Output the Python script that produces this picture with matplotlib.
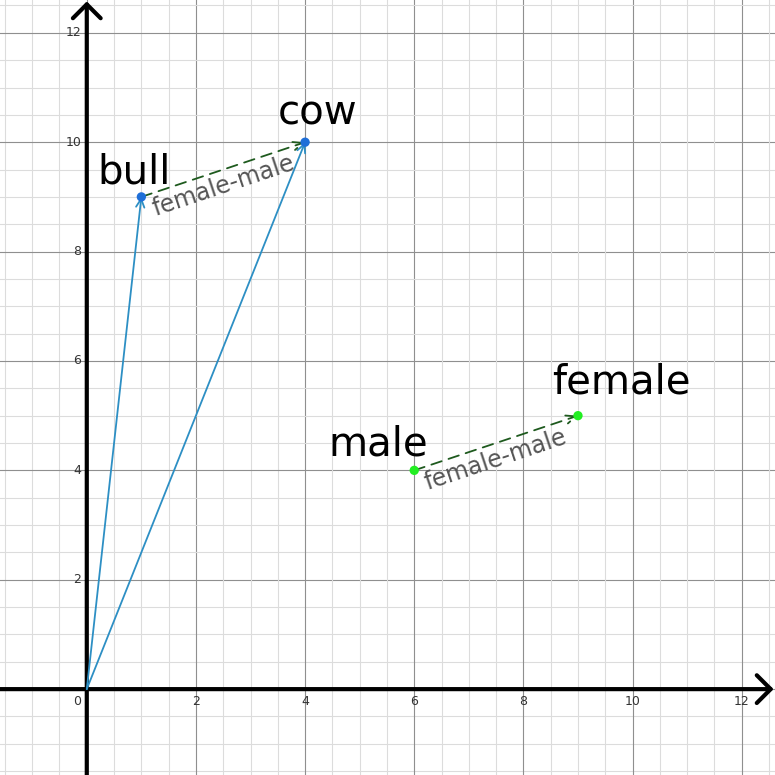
import matplotlib.pyplot as plt
import numpy as np

# points
names = ["bull", "cow", "male", "female"]
xs = [1, 4, 6, 9]
ys = [9, 10, 4, 5]
pt_colors = ["#1f6fd8", "#1f6fd8", "#22ee22", "#22ee22"]
# label offsets in points (centre, baseline)
label_off = [(-5, 10), (9, 13), (-26, 11), (31, 16)]

# vectors from origin
vec_names = ["bull", "cow"]
# difference arrows (start, end)
diffs = [("bull", "cow"), ("male", "female")]
diff_label = "female-male"

ticks = [2, 4, 6, 8, 10, 12]

fig = plt.figure(figsize=(7.75, 7.75), dpi=100)
ax = fig.add_axes([0, 0, 1, 1])
ax.set_xlim(-1.59, 12.61)
ax.set_ylim(-1.57, 12.6)

# grid
for v in np.arange(-1.5, 13, 0.5):
    c = "#8f8f8f" if v % 2 == 0 else "#dcdcdc"
    ax.axvline(v, color=c, lw=0.8, zorder=0)
    ax.axhline(v, color=c, lw=0.8, zorder=0)

# axes with arrows
axis_arrow = dict(arrowstyle="->,head_length=1.0,head_width=1.0", lw=3, color="black",
                  shrinkA=0, shrinkB=1)
ax.annotate("", xy=(12.61, 0), xytext=(-1.59, 0), arrowprops=axis_arrow, zorder=3)
ax.annotate("", xy=(0, 12.6), xytext=(0, -1.57), arrowprops=axis_arrow, zorder=3)

for t in ticks:
    ax.text(t, -0.1, str(t), ha="center", va="top", fontsize=9, color="#333333", zorder=4)
    ax.text(-0.1, t, str(t), ha="right", va="center", fontsize=9, color="#333333", zorder=4)
ax.text(-0.1, -0.1, "0", ha="right", va="top", fontsize=9, color="#333333", zorder=4)

pos = dict(zip(names, zip(xs, ys)))

for n in vec_names:
    ax.annotate("", xy=pos[n], xytext=(0, 0),
                arrowprops=dict(arrowstyle="->,head_length=0.6,head_width=0.3", lw=1.3,
                                color="#2d8fc4", shrinkA=0, shrinkB=0), zorder=5)

for a, b in diffs:
    (x0, y0), (x1, y1) = pos[a], pos[b]
    ax.annotate("", xy=(x1, y1), xytext=(x0, y0),
                arrowprops=dict(arrowstyle="->,head_length=0.7,head_width=0.3", lw=1.3,
                                color="#1e5a1e", linestyle=(0, (6, 4)), shrinkA=0, shrinkB=0),
                zorder=5)
    p0 = ax.transData.transform((x0, y0))
    p1 = ax.transData.transform((x1, y1))
    ang = np.degrees(np.arctan2(p1[1] - p0[1], p1[0] - p0[0]))
    ax.annotate(diff_label, xy=((x0 + x1) / 2, (y0 + y1) / 2), xytext=(0, -12),
                textcoords="offset points", rotation=ang, rotation_mode="anchor",
                ha="center", va="center", fontsize=17, color="#555555", zorder=6)

ax.scatter(xs, ys, s=45, c=pt_colors, zorder=7, edgecolors="none")
for n, x, y, (dx, dy) in zip(names, xs, ys, label_off):
    ax.annotate(n, xy=(x, y), xytext=(dx, dy), textcoords="offset points",
                ha="center", va="baseline", fontsize=29, color="black", zorder=8)

ax.axis("off")
fig.savefig("out.png", dpi=100)
